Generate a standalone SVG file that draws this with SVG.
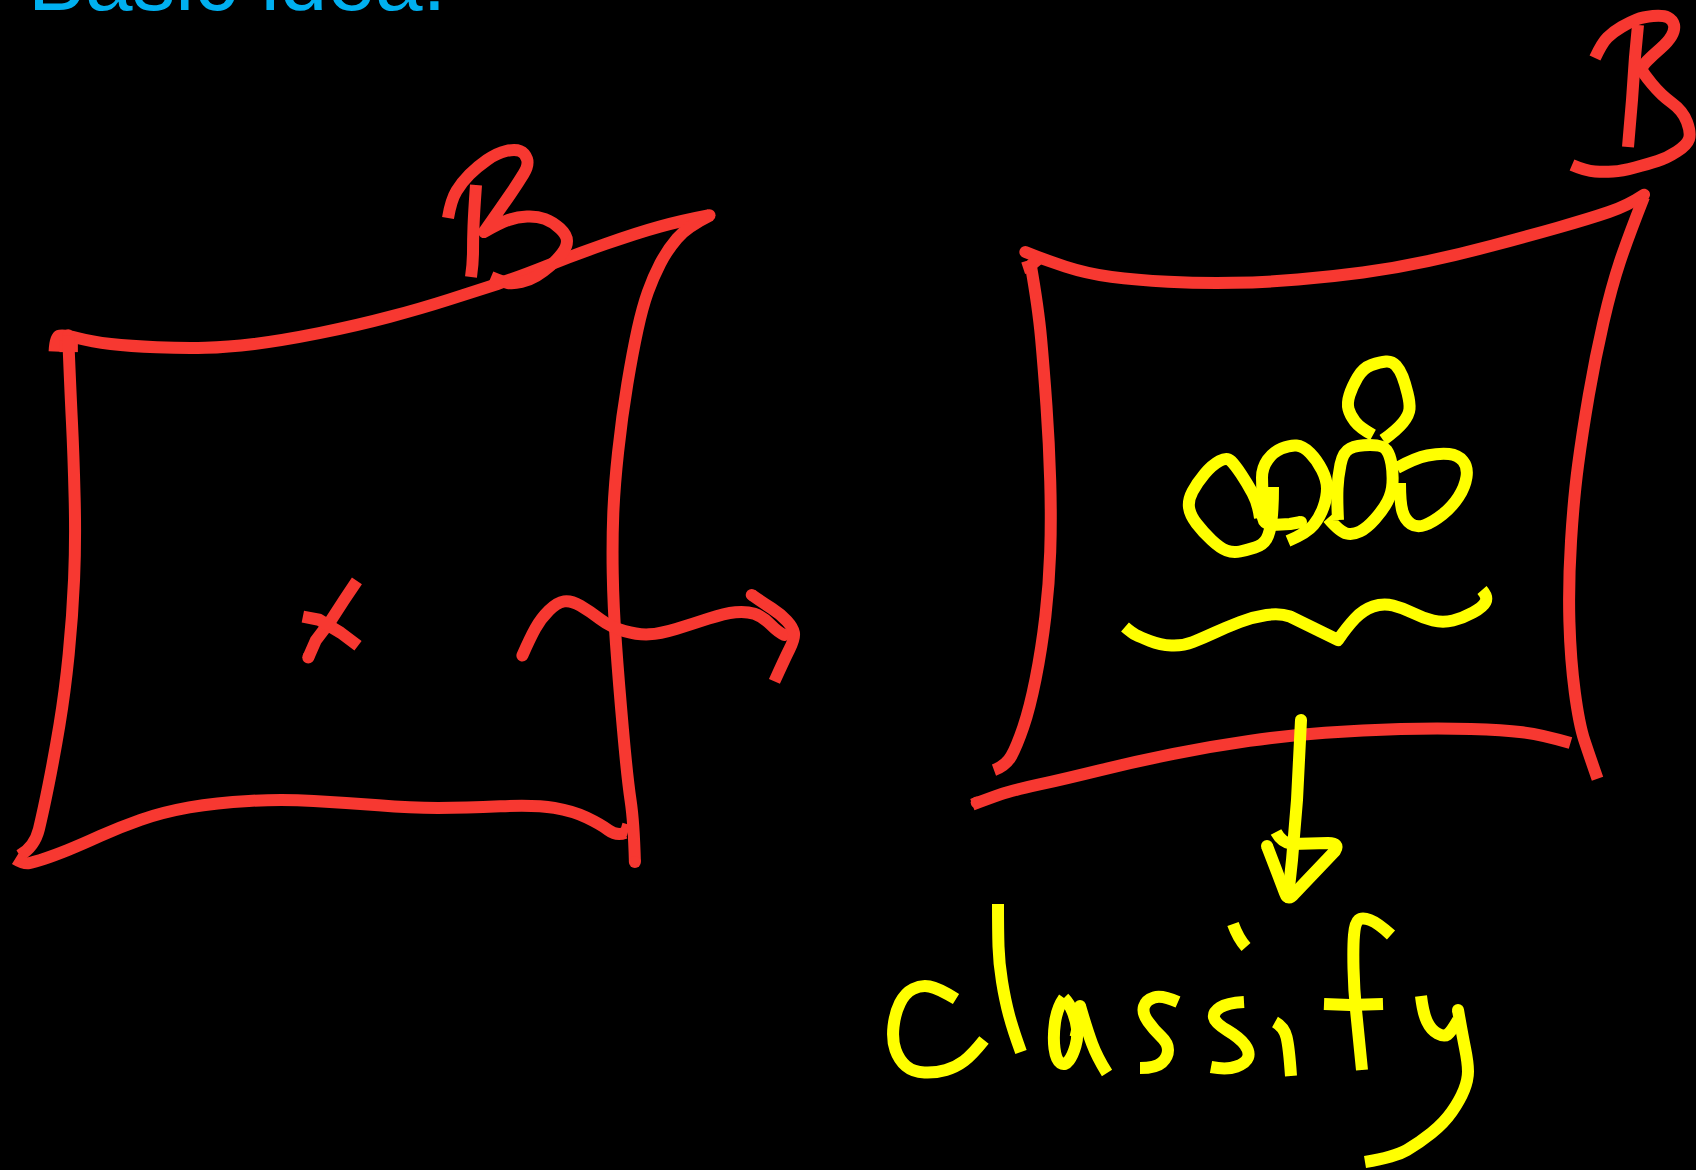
<svg xmlns="http://www.w3.org/2000/svg" width="1696" height="1170" viewBox="0 0 1696 1170">
<style>
path{fill:none;stroke-width:12;stroke-linejoin:round;vector-effect:non-scaling-stroke}
.r{stroke:#f73831}.y{stroke:#ffff00}.c{stroke-linecap:round}
.t{font-family:"Liberation Sans",Arial,sans-serif;font-size:85.5px;fill:#00b0f0}
</style>
<rect width="1696" height="1170" fill="#000000"/>
<text class="t" x="28" y="9.5">Basic idea:</text>
<g id="left-box" transform="scale(1.0816)">
<path class="r" d="M50.5,325 Q51,312 54.5,310.5 T71.5,312.5 T102.5,318 T145,321 T190,321.5 T235,318 T295,308 T360,293 T415,277 T460,262.5 T505,246 T560,225.5 T610,209.5 T656,199"/>
<path class="r" d="M55,320 L72,320"/>
<path class="r c" d="M656,199 h0.01"/>
<path class="r c" d="M63,310 h0.01"/>
<path class="r" d="M657,199 Q635,210 626,220.5 T610.5,243.5 T599,270 T589.5,304.5 T580,355 T571.5,417.5 T567,475 T566.5,530 T569.5,595 T576,675 T583,740 T587,797"/>
<path class="r c" d="M587,797 h0.01"/>
<path class="r" d="M63,310 Q65,360 66.5,390 T69,460 T68.5,535 T63.5,605 T55,670 T45,725 T36,766.5 T18,791"/>
<path class="r" d="M14,794 Q22,799 27,798 T41,794 T62.5,786 T92.5,773 T130,758 T175,746.5 T230,740.5 T290,740.5 T350,744.5 T405,747 T462.5,745.5 T512.5,747 T542.5,756 T562.5,767.5 T578,770"/>
<path class="r" d="M574,766 L581,768"/>
<path class="r" d="M330,537 L318,555 L305,575 L292,592 L285,608"/>
<path class="r c" d="M285,608 h0.01"/>
<path class="r" d="M280,570 L295,573 L315,585 L331,597"/>
<path class="r c" d="M483,606 Q490,590 495,581 T507.5,564.5 T521.5,556 T536.5,560 T555,572.5 T577.5,583.5 T600,586.5 T625,581.5 T655,572 T680,566 T697.5,567.5 T712.5,577.5 T725,587"/>
<path class="r c" d="M695,550 h0.01"/>
<path class="r" d="M695,550 Q705,557 713.5,562.5 T727.5,574 T734,585 T730,600 T716,630"/>
</g>
<g id="left-b">
<path class="r" d="M448,218 Q451,200 456.5,191 T469.5,174.5 T487,160 T506,151 T520,151 T527,159 T523.5,174 T510.5,194 T484,232 Q500,223 508.5,220 T527,216.5 T545,219 T560,228.5 T567,241 T562,253.5 T550,266 T536.5,276 T521.5,282 T508,283 T491,277"/>
<path class="r" d="M476,185 Q474,213 473.5,226.5 T473,251.5 T471,277"/>
</g>
<g id="right-box" transform="scale(1.0816)">
<path class="r c" d="M948,233 Q965,240 985,246.5 T1027.5,256 T1080,260.5 T1140,261.5 T1200,258.5 T1260,252 T1320,241.5 T1380,227 T1440,210.5 T1487.5,196 T1520,180"/>
<path class="r" d="M962,238 L952,246 L946,248"/>
<path class="r" d="M953,245 Q960,285 962.5,312.5 T967.5,375 T971,445 T971,510 T966.5,570 T957.5,627.5 T946,672.5 T935,699 T919,712"/>
<path class="r" d="M1520,182 Q1505,220 1497.5,242.5 T1482.5,297.5 T1469,365 T1459,430 T1452.5,500 T1451,575 T1456,640 T1465,685 T1477,720"/>
<path class="r" d="M899,744 Q915,738 925,734.5 T960,725.5 T1017.5,712 T1085,697 T1155,685 T1225,677.5 T1295,674 T1360,674 T1407.5,677 T1452,687"/>
<path class="r c" d="M903,742 h0.01"/>
</g>
<g id="arrow">
<path class="y c" d="M1301,720 L1299,760 L1297,800 L1292,860 L1288,897"/>
<path class="y" d="M1276,832 Q1282,843 1292,844 L1328,843 Q1340,843 1335,851 L1295,893 Q1288,902 1285,893 L1267,846"/>
<path class="y c" d="M1267,846 h0.01"/>
</g>
<g id="right-b">
<path class="r" d="M1595,58 Q1602,43 1607.5,37.5 T1621.5,27 T1636.5,19.5 T1653,16 T1668,17.5 T1674,25 T1671.5,36 T1660.5,48.5 T1647,61 T1642,70 T1652,84 T1672,103 T1687,122 T1689,139 T1677,151.5 T1657.5,161 T1635,167.5 T1613,171.5 T1595,171.5 T1572,165"/>
<path class="r" d="M1638,25 L1635,57 L1632,100 L1628,147"/>
</g>
<g id="blobs">
<path class="y" d="M1373,435 Q1360,428 1355,421.5 T1348.5,409 T1349.5,395 T1357.5,377.5 T1371.5,365 T1386,361.5 T1396,365.5 T1402.5,376.5 T1407.5,393 T1409.5,409 T1403,422.5 T1383,440"/>
<path class="y" d="M1338,520 Q1337,500 1337.5,488.5 T1340.5,464.5 T1350,448.5 T1370,445 T1386.5,450 T1391.5,464 T1392.5,483 T1387.5,501.5 T1375,519 T1360,531.5 T1346.5,533.5 T1328,518"/>
<path class="y" d="M1397,468 Q1415,458 1427.5,455.5 T1449,454 T1463,461 T1466.5,477 T1458.5,497 T1442.5,514.5 T1425,525 T1411,524 T1402.5,511.5 T1400,483"/>
<path class="y" d="M1288,541 Q1307,533 1313.5,525 T1323.5,507 T1327,488.5 T1322,470 T1310,453 T1296.5,445.5 T1281.5,448.5 T1267.5,460 T1262,477.5 L1263,518 Q1264,524 1272,525 L1290,524 L1301,522"/>
<path class="y c" d="M1301,522 h0.01"/>
<path class="y" d="M1273,487 Q1273,507 1271.5,520 T1266.5,539 T1255,547.5 T1240,551.5 T1226.5,550.5 T1211.5,540 T1196.5,523.5 T1189,507.5 T1192.5,491.5 T1204.5,474 T1219.5,461 T1231,461 T1241,474 T1252.5,493 T1260,518"/>
<path class="y" d="M1125,627 Q1132,633 1136,635 T1150,641 T1171.5,645.5 T1193,642 T1215,632.5 T1240,622 T1266.5,615 T1290,616.5 L1338,640 Q1347,627 1355,618.5 T1373,606.5 T1393,605.5 T1413,613 T1433,620.5 T1453,620.5 T1473,612.5 T1485.5,602 T1482,590"/>
</g>
<g id="classify">
<path class="y" d="M956,999 Q938,988 929.5,986.5 T913,989 T900,1003 T893.5,1026.5 T895.5,1050 T906,1066 T924.5,1072.5 T946,1070 T964,1061 T984,1040"/>
<path class="y" d="M998,904 Q998,930 998.5,946.5 T1002,981.5 T1009,1015 T1021,1052"/>
<path class="y" d="M1064,998 Q1057,1008 1055,1022.5 T1054.5,1048.5 T1060.5,1063 T1069,1060.5 T1075.5,1046 T1077,1028.5 T1072.5,1011.5 T1064,998"/>
<path class="y" d="M1071,1030 L1080,1032"/>
<path class="y c" d="M1080,1006 h0.01"/>
<path class="y" d="M1080,1006 Q1087,1030 1092,1043.5 T1107,1073"/>
<path class="y" d="M1178,1002 Q1162,995 1154,997.5 T1144,1006.5 T1148,1021.5 T1161,1036.5 T1168,1050 T1162,1062.5 T1140,1068"/>
<path class="y" d="M1244,1002 Q1227,1003 1220,1007.5 T1214,1017.5 T1227.5,1030.5 T1245,1045 T1248,1057.5 T1236.5,1066.5 T1211,1067"/>
<path class="y" d="M1233,924 Q1238,938 1246,947"/>
<path class="y" d="M1275,1022 Q1284,1027 1286.5,1037 T1291,1076"/>
<path class="y" d="M1391,935 Q1378,923 1370,920 T1358.5,920 T1354,935 T1353.5,968.5 T1356,1010 T1362,1070"/>
<path class="y" d="M1324,1004 L1350,1005 L1383,1004"/>
<path class="y" d="M1421,996 Q1423,1013 1427,1021.5 T1437.5,1033.5 T1447.5,1034.5 T1458,1020"/>
<path class="y c" d="M1458,1010 h0.01"/>
<path class="y" d="M1458,1010 Q1462,1033 1465,1048 T1468,1071.5 T1464,1090 T1452,1111.5 T1431.5,1133 T1407,1150 T1365,1162"/>
</g>
</svg>
